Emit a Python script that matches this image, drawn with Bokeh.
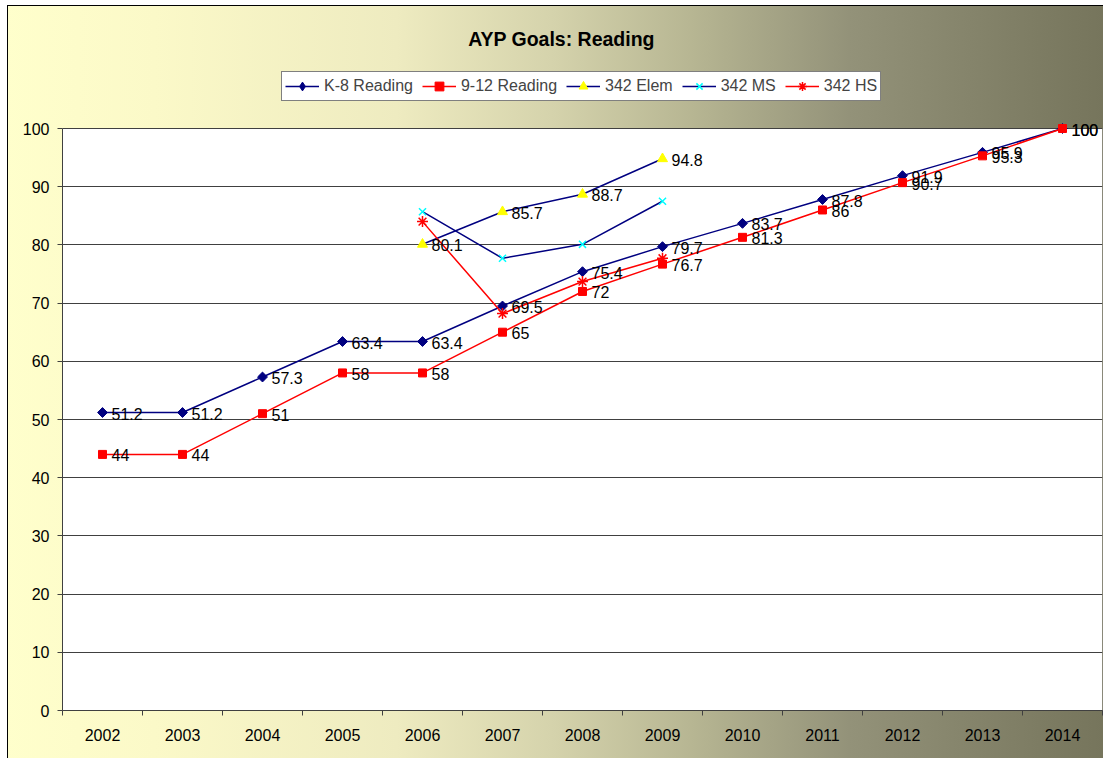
from bokeh.plotting import figure
from bokeh.models import (ColumnDataSource, FixedTicker, Range1d, Label, Legend,
                          LegendItem, LabelSet, BoxAnnotation)
from bokeh.embed import file_html
from bokeh.resources import INLINE
from bokeh.core.properties import value

years = ["2002", "2003", "2004", "2005", "2006", "2007", "2008",
         "2009", "2010", "2011", "2012", "2013", "2014"]
k8_reading = [51.2, 51.2, 57.3, 63.4, 63.4, 69.5, 75.4, 79.7, 83.7, 87.8, 91.9, 95.9, 100]
hs_reading = [44, 44, 51, 58, 58, 65, 72, 76.7, 81.3, 86, 90.7, 95.3, 100]
sub_years = ["2006", "2007", "2008", "2009"]
elem_342 = [80.1, 85.7, 88.7, 94.8]
ms_342 = [85.7, 77.7, 80.1, 87.5]
hs_342 = [84.0, 68.2, 73.7, 77.7]
y_ticks = [0, 10, 20, 30, 40, 50, 60, 70, 80, 90, 100]
y_max = 100

FONT = "Liberation Sans"
GRID = "#404040"

# frame covers the whole upper area so title/legend can sit inside it
FRAME_H = 710
PLOT_H = 582  # height of the 0..100 value area
y_top = y_max * FRAME_H / PLOT_H


def xpos(yrs):
    return [years.index(y) + 0.5 for y in yrs]


p = figure(frame_width=1040, frame_height=FRAME_H, width=1103, height=758,
           output_backend="svg", toolbar_location=None,
           x_range=Range1d(0, len(years)), y_range=Range1d(0, y_top),
           min_border_left=62, min_border_right=1, min_border_top=0, min_border_bottom=48)
p.border_fill_color = None
p.background_fill_color = None
p.outline_line_color = None
p.styles = {"background": "linear-gradient(to right, #FFFFCC 0%, #FBF9C8 14%, #EEEBC0 36%, #D5D3AC 50%, #B6B592 63%, #939279 77%, #7C7B62 95%, #76755C 100%)",
            "box-shadow": "inset 7px 5px 0 #ffffff, inset 8px 6px 0 #000000"}

# white value area
p.add_layout(BoxAnnotation(bottom=0, top=y_max, fill_color="white", fill_alpha=1,
                           line_color=GRID, line_width=1, level="image"))

# axes
p.xaxis.ticker = FixedTicker(ticks=xpos(years), minor_ticks=list(range(len(years) + 1)))
p.xaxis.major_label_overrides = {x: y for x, y in zip(xpos(years), years)}
p.xaxis.major_tick_line_color = None
p.xaxis.minor_tick_in = 0
p.xaxis.minor_tick_out = 5
p.xaxis.minor_tick_line_color = GRID
p.xaxis.axis_line_color = GRID
p.xaxis.major_label_standoff = 12
p.yaxis.ticker = FixedTicker(ticks=y_ticks, minor_ticks=[])
p.yaxis.bounds = (0, y_max)
p.yaxis.major_tick_in = 0
p.yaxis.major_tick_out = 5
p.yaxis.major_tick_line_color = GRID
p.yaxis.axis_line_color = GRID
p.yaxis.major_label_standoff = 8
for ax in (p.xaxis, p.yaxis):
    ax.major_label_text_font = FONT
    ax.major_label_text_font_size = "16px"
    ax.major_label_text_color = "black"
p.xgrid.grid_line_color = None
p.ygrid.ticker = FixedTicker(ticks=y_ticks)
p.ygrid.grid_line_color = GRID
p.ygrid.grid_line_width = 1

navy = "#000080"
red = "#FF0000"

src_k8 = ColumnDataSource(dict(x=xpos(years), y=k8_reading, t=[f"{v:g}" for v in k8_reading]))
src_hs = ColumnDataSource(dict(x=xpos(years), y=hs_reading, t=[f"{v:g}" for v in hs_reading]))
src_el = ColumnDataSource(dict(x=xpos(sub_years), y=elem_342, t=[f"{v:g}" for v in elem_342]))
src_ms = ColumnDataSource(dict(x=xpos(sub_years), y=ms_342))
src_h3 = ColumnDataSource(dict(x=xpos(sub_years), y=hs_342))

items = []
l = p.line("x", "y", source=src_k8, line_color=navy, line_width=1.5)
p.scatter("x", "y", source=src_k8, marker="square", angle=0.785398, size=7,
          fill_color=navy, line_color=navy)
# legend-only swatch (legend markers are drawn unrotated); its point is off-chart
m = p.scatter(x=[float("nan")], y=[float("nan")], marker="diamond", size=9,
              fill_color=navy, line_color=navy)
items.append(LegendItem(label="K-8 Reading", renderers=[l, m]))
l = p.line("x", "y", source=src_hs, line_color=red, line_width=1.5)
m = p.scatter("x", "y", source=src_hs, marker="square", size=8, fill_color=red, line_color=red)
items.append(LegendItem(label="9-12 Reading", renderers=[l, m]))
l = p.line("x", "y", source=src_el, line_color=navy, line_width=1.5)
m = p.scatter("x", "y", source=src_el, marker="triangle", size=10, fill_color="#FFFF00", line_color="#FFFF00")
items.append(LegendItem(label="342 Elem", renderers=[l, m]))
l = p.line("x", "y", source=src_ms, line_color=navy, line_width=1.5)
m = p.scatter("x", "y", source=src_ms, marker="x", size=10, line_color="#00FFFF", line_width=1.5)
items.append(LegendItem(label="342 MS", renderers=[l, m]))
l = p.line("x", "y", source=src_h3, line_color=red, line_width=1.5)
m = p.scatter("x", "y", source=src_h3, marker="asterisk", size=11, line_color=red, line_width=1.5)
items.append(LegendItem(label="342 HS", renderers=[l, m]))

for s in (src_k8, src_hs, src_el):
    p.add_layout(LabelSet(x="x", y="y", text="t", source=s, x_offset=9, y_offset=-1,
                          text_baseline="middle", text_align="left",
                          text_font=value(FONT), text_font_size="16px", text_color="black"))

legend = Legend(items=items, orientation="horizontal", location=(219, 609),
                label_text_font=FONT, label_text_font_size="16px",
                border_line_color="black", border_line_width=1,
                background_fill_color="white", background_fill_alpha=1,
                glyph_width=34, glyph_height=22, label_standoff=5, spacing=9,
                padding=3, margin=0)
p.add_layout(legend, "center")

title = Label(x=499, y=FRAME_H - 38, x_units="screen", y_units="screen", text="AYP Goals: Reading",
              text_font=FONT, text_font_size="19.5px", text_font_style="bold",
              text_align="center", text_baseline="middle", text_color="black")
p.add_layout(title)

open("out.html", "w").write(file_html(p, INLINE))
